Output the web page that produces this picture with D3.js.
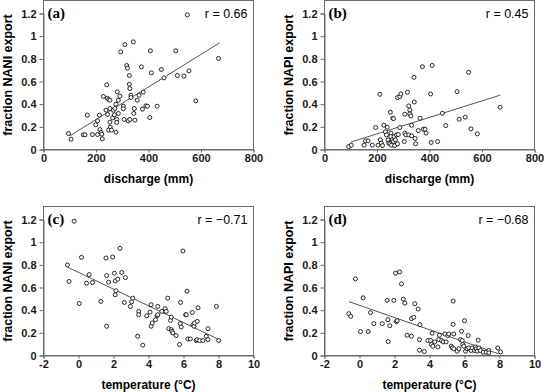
<!DOCTYPE html>
<html lang="en">
<head>
<meta charset="UTF-8" />
<title>export fractions</title>
<style>
  body { margin: 0; background: #fff; }
  svg { display: block; }
  .tick text { font-family: "Liberation Sans", Arial, sans-serif; font-weight: bold; font-size: 11px; fill: #1a1a1a; }
</style>
</head>
<body>
<svg width="544" height="392" id="mainsvg"></svg>
<script src="https://cdn.jsdelivr.net/npm/d3@7"></script>
<script>
// panel (a): discharge vs fraction NANI export
const dischargeA = [95,105,152,158,167,186,199,206,206,213,215,219,222,224,228,241,243,248,238,244,253,253,253,254,248,259,263,266,272,270,276,279,281,276,285,285,279,291,294,304,304,307,310,317,320,323,327,327,329,329,333,333,342,346,344,348,357,364,373,380,377,390,405,407,411,396,433,449,459,504,510,535,554,548,580,667]
const naniA = [0.141,0.091,0.13,0.13,0.303,0.132,0.218,0.253,0.132,0.303,0.176,0.15,0.135,0.094,0.468,0.571,0.453,0.441,0.347,0.309,0.435,0.362,0.241,0.197,0.171,0.171,0.279,0.347,0.362,0.306,0.4,0.265,0.509,0.153,0.435,0.318,0.238,0.471,0.862,0.382,0.359,0.265,0.926,0.741,0.718,0.253,0.653,0.576,0.538,0.265,0.479,0.459,0.95,0.362,0.318,0.259,0.435,0.479,0.729,0.506,0.356,0.385,0.282,0.871,0.676,0.382,0.382,0.706,0.632,0.871,0.653,0.647,0.694,1.188,0.429,0.803]
const trendA = [[100, 0.12], [670, 0.94]]

// panel (b): discharge vs fraction NAPI export
const dischargeB = [92,102,151,156,166,182,195,204,211,213,217,221,226,232,236,239,242,245,249,251,253,253,255,258,260,263,262,265,268,270,274,278,278,281,287,291,287,304,306,306,310,316,321,321,325,325,332,332,329,341,342,345,347,357,364,373,377,383,387,404,406,410,431,449,462,505,513,536,549,558,582,669]
const napiB = [0.026,0.038,0.038,0.076,0.076,0.038,0.194,0.038,0.487,0.085,0.056,0.035,0.214,0.156,0.129,0.197,0.085,0.056,0.05,0.329,0.144,0.114,0.038,0.085,0.276,0.273,0.07,0.114,0.035,0.085,0.129,0.05,0.458,0.132,0.467,0.49,0.194,0.07,0.311,0.144,0.129,0.505,0.384,0.129,0.349,0.314,0.12,0.214,0.296,0.637,0.419,0.097,0.05,0.167,0.276,0.731,0.179,0.179,0.144,0.49,0.062,0.742,0.07,0.32,0.211,0.511,0.267,0.285,0.681,0.182,0.138,0.373]
const trendB = [[100, 0.065], [670, 0.48]]

// panel (c): temperature vs fraction NANI export
const tempC = [-0.25,-0.63,-0.54,0.17,0.04,0.46,0.61,0.8,1.28,1.57,1.61,1.61,1.72,1.95,2.05,2.1,2.1,2.14,2.24,2.37,2.47,2.62,2.68,2.96,3.04,3.1,3.38,3.44,3.44,3.67,3.9,4.09,4.15,4.15,4.21,4.4,4.49,4.53,4.53,4.76,4.95,5.01,5.1,5.16,5.26,5.3,5.3,5.34,5.39,5.58,5.77,5.81,5.83,5.87,5.97,6.12,6.16,6.2,6.25,6.39,6.5,6.54,6.6,6.63,6.73,6.79,6.77,6.83,6.92,7.11,7.3,7.4,7.4,7.88,8.01]
const naniC = [1.185,0.799,0.653,0.866,0.459,0.638,0.714,0.644,0.477,0.86,0.258,0.705,0.647,0.869,0.726,0.658,0.536,0.571,0.673,0.945,0.732,0.468,0.688,0.433,0.474,0.506,0.17,0.389,0.36,0.091,0.351,0.383,0.448,0.258,0.287,0.316,0.351,0.433,0.36,0.389,0.413,0.389,0.506,0.237,0.31,0.339,0.228,0.214,0.199,0.176,0.097,0.281,0.468,0.252,0.922,0.36,0.36,0.568,0.146,0.146,0.38,0.272,0.258,0.287,0.132,0.301,0.14,0.421,0.132,0.132,0.17,0.237,0.14,0.433,0.132]
const trendC = [[-0.63, 0.78], [7.97, 0.145]]

// panel (d): temperature vs fraction NAPI export
const tempD = [-0.61,-0.5,-0.23,0.06,0.21,0.5,0.63,0.82,1.3,1.58,1.62,1.64,1.73,1.96,2.06,2.1,2.15,2.29,2.4,2.5,2.59,2.72,2.97,2.97,3.1,3.16,3.35,3.45,3.43,3.43,3.7,3.9,4.06,4.15,4.11,4.19,4.3,4.48,4.53,4.57,4.69,4.78,4.88,4.95,5.05,5.1,5.24,5.3,5.35,5.35,5.39,5.39,5.58,5.68,5.77,5.83,5.87,5.9,5.96,6,6.06,6.15,6.21,6.25,6.38,6.44,6.57,6.63,6.67,6.72,6.78,6.82,6.91,7.07,7.24,7.39,7.39,7.9,8.06]
const napiD = [0.369,0.345,0.676,0.211,0.509,0.211,0.378,0.281,0.281,0.486,0.316,0.123,0.263,0.486,0.726,0.299,0.307,0.737,0.632,0.497,0.462,0.179,0.17,0.325,0.337,0.457,0.41,0.272,0.14,0.047,0.035,0.132,0.132,0.196,0.097,0.082,0.12,0.076,0.14,0.179,0.132,0.12,0.19,0.12,0.176,0.19,0.082,0.067,0.48,0.275,0.19,0.059,0.038,0.059,0.14,0.214,0.132,0.097,0.082,0.307,0.038,0.059,0.176,0.067,0.044,0.067,0.044,0.076,0.059,0.038,0.135,0.067,0.044,0.029,0.029,0.044,0.023,0.067,0.032]
const trendD = [[-0.6, 0.475], [7.95, 0.015]]

const dischargeTicks = [0, 200, 400, 600, 800]
const tempTicks = [-2, 0, 2, 4, 6, 8, 10]
const fracTicks = [0, 0.2, 0.4, 0.6, 0.8, 1, 1.2]

const panels = [
	{ tag: "(a)", r: "r = 0.66", xs: dischargeA, ys: naniA, trend: trendA, xDom: [0, 800], xTicks: dischargeTicks, xLabel: "discharge (mm)", yLabel: "fraction NANI export", left: 43.5, right: 253.5, top: 0.5 },
	{ tag: "(b)", r: "r = 0.45", xs: dischargeB, ys: napiB, trend: trendB, xDom: [0, 800], xTicks: dischargeTicks, xLabel: "discharge (mm)", yLabel: "fraction NAPI export", left: 324.5, right: 534.5, top: 0.5 },
	{ tag: "(c)", r: "r = \u22120.71", xs: tempC, ys: naniC, trend: trendC, xDom: [-2, 10], xTicks: tempTicks, xLabel: "temperature (\u00b0C)", yLabel: "fraction NANI export", left: 43.5, right: 253.5, top: 206.5 },
	{ tag: "(d)", r: "r = \u22120.68", xs: tempD, ys: napiD, trend: trendD, xDom: [-2, 10], xTicks: tempTicks, xLabel: "temperature (\u00b0C)", yLabel: "fraction NAPI export", left: 324.5, right: 534.5, top: 206.5 },
]

const svg = d3.select("#mainsvg")
const axisColor = "#6b6b6b"
const sans = "'Liberation Sans', Arial, sans-serif"

panels.forEach((p) => {
	const bottom = p.top + 149
	const x = d3.scaleLinear().domain(p.xDom).range([p.left, p.right])
	const y = d3.scaleLinear().domain([0, 1.2]).range([bottom, p.top + 13])
	const g = svg.append("g")

	// plot frame
	g.append("rect")
		.attr("x", p.left).attr("y", p.top)
		.attr("width", p.right - p.left).attr("height", bottom - p.top)
		.attr("fill", "none").attr("stroke", axisColor).attr("stroke-width", 1)

	const yAxis = g.append("g")
		.attr("transform", `translate(${p.left},0)`)
		.call(d3.axisLeft(y).tickValues(fracTicks).tickSize(4).tickPadding(3).tickFormat(d3.format("~g")))
	const xAxis = g.append("g")
		.attr("transform", `translate(0,${bottom})`)
		.call(d3.axisBottom(x).tickValues(p.xTicks).tickSize(3).tickPadding(2).tickFormat(d3.format("~g")))
	;[xAxis, yAxis].forEach((a) => {
		a.select(".domain").attr("stroke", axisColor)
		a.selectAll(".tick line").attr("stroke", axisColor)
	})
	xAxis.selectAll(".tick text").text((d) => String(d))

	// trend line
	g.append("line")
		.attr("x1", x(p.trend[0][0])).attr("y1", y(p.trend[0][1]))
		.attr("x2", x(p.trend[1][0])).attr("y2", y(p.trend[1][1]))
		.attr("stroke", "#555").attr("stroke-width", 1)

	// points
	g.append("g")
		.selectAll("circle")
		.data(d3.zip(p.xs, p.ys))
		.join("circle")
		.attr("cx", (d) => x(d[0]))
		.attr("cy", (d) => y(d[1]))
		.attr("r", 2)
		.attr("fill", "#fff")
		.attr("stroke", "#111")
		.attr("stroke-width", 0.9)

	g.append("text")
		.attr("x", p.left + 4).attr("y", p.top + 17)
		.attr("font-family", "'Liberation Serif', 'Times New Roman', serif")
		.attr("font-weight", "bold").attr("font-size", 15)
		.text(p.tag)

	g.append("text")
		.attr("x", p.right - 6).attr("y", p.top + 17)
		.attr("text-anchor", "end")
		.attr("font-family", sans).attr("font-size", 12.5)
		.text(p.r)

	g.append("text")
		.attr("x", (p.left + p.right) / 2).attr("y", bottom + 33.5)
		.attr("text-anchor", "middle")
		.attr("font-family", sans).attr("font-weight", "bold").attr("font-size", 12)
		.text(p.xLabel)

	g.append("text")
		.attr("transform", `translate(${p.left - 36},${(p.top + bottom) / 2}) rotate(-90)`)
		.attr("text-anchor", "middle").attr("dominant-baseline", "central")
		.attr("font-family", sans).attr("font-weight", "bold").attr("font-size", 12.5)
		.text(p.yLabel)
})
</script>
</body>
</html>
